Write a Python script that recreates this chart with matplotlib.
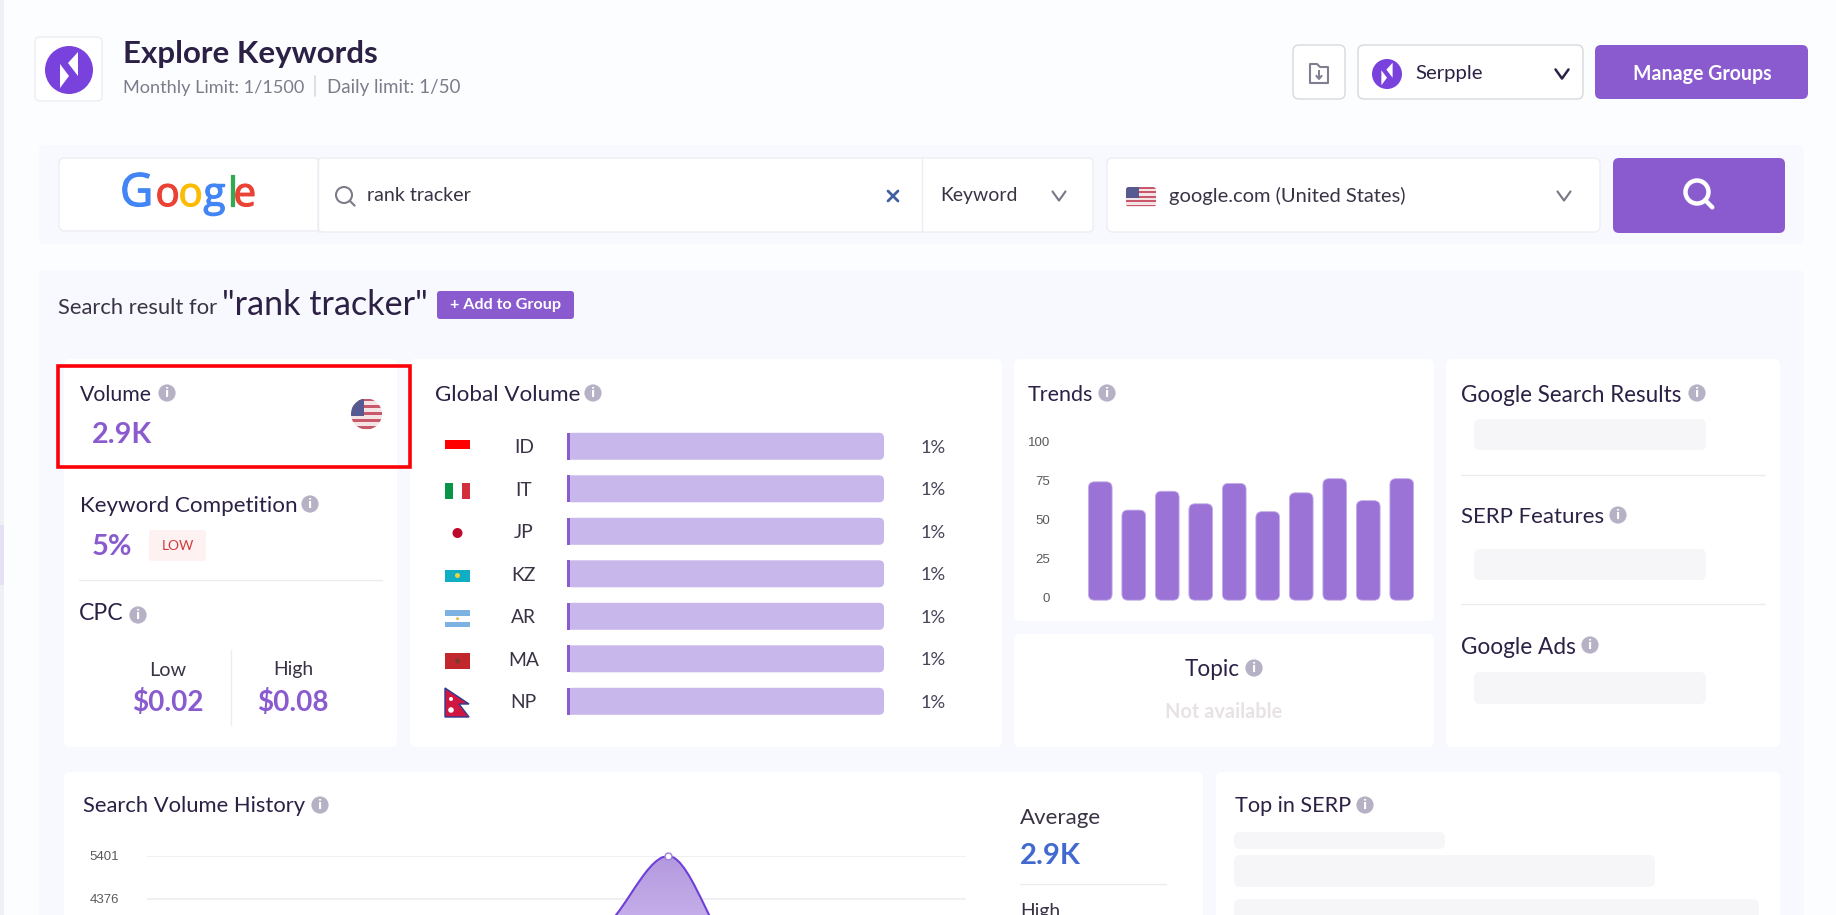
import numpy as np
import matplotlib
matplotlib.use("Agg")
import matplotlib.pyplot as plt
import matplotlib.patheffects as pe
from matplotlib.patches import FancyBboxPatch, Rectangle, Circle, Polygon, PathPatch
from matplotlib.path import Path
from matplotlib.textpath import TextPath
from matplotlib.font_manager import FontProperties
from matplotlib.colors import LinearSegmentedColormap

# ---------- data ----------
trend_values = [74, 56, 68, 60, 73, 55, 67, 76, 62, 76]
trend_ticks = [0, 25, 50, 75, 100]
country_codes = ["ID", "IT", "JP", "KZ", "AR", "MA", "NP"]
country_share = [1, 1, 1, 1, 1, 1, 1]
history_month = [6, 7, 8]
history_volume = [3608, 5401, 2950]
history_ticks = [5401, 4376]

FONT = "Lato"
INK = "#2c2145"
PURPLE = "#8a5bcf"
PANEL = "#f7f9fe"
W, H = 1836, 915

fig = plt.figure(figsize=(W / 100, H / 100), dpi=100, facecolor="#fcfdff")
ui = fig.add_axes([0, 0, 1, 1], zorder=0)
ui.set_xlim(0, W)
ui.set_ylim(H, 0)
ui.axis("off")


def box(x0, y0, x1, y1, fc="white", ec="none", r=6, lw=1.0, z=1):
    p = FancyBboxPatch((x0 + r, y0 + r), x1 - x0 - 2 * r, y1 - y0 - 2 * r,
                       boxstyle=f"round,pad={r},rounding_size={r}",
                       fc=fc, ec=ec, lw=lw, zorder=z)
    ui.add_patch(p)
    return p


def fitted(s, w, weight="normal", fam=FONT):
    tp = TextPath((0, 0), s, size=10, prop=FontProperties(family=fam, weight=weight))
    return 10 * w / (tp.get_extents().width * 100 / 72)


def T(x, y, s, w=None, size=12, color=INK, weight="normal", ha="left", fam=FONT, va="center", z=5):
    if w is not None:
        size = fitted(s, w, weight, fam)
    off = 2 if va == "center" else 0
    return ui.text(x, y + off, s, fontsize=size, color=color, fontweight=weight, ha=ha, va=va,
                   family=fam, zorder=z)


def line(x0, y0, x1, y1, c="#ececf0", lw=1.0, z=3):
    ui.plot([x0, x1], [y0, y1], color=c, lw=lw, zorder=z, solid_capstyle="round")


def info(x, y):
    ui.add_patch(Circle((x, y), 8.6, fc="#b6b1c5", ec="none", zorder=5))
    ui.text(x, y + 0.3, "i", color="white", fontsize=9, fontweight="bold", ha="center",
            va="center", family="DejaVu Sans", zorder=6)


def logo(cx, cy, r):
    ui.add_patch(Circle((cx, cy), r, fc="#7a42dc", ec="none", zorder=4))
    k = r / 24
    ui.add_patch(Polygon([(cx + 9 * k, cy - 18 * k), (cx + 9 * k, cy + 6 * k), (cx - 1 * k, cy - 7 * k)],
                         fc="white", ec="none", zorder=5))
    ui.add_patch(Polygon([(cx - 9 * k, cy - 6 * k), (cx + 0 * k, cy + 6 * k), (cx - 9 * k, cy + 18 * k)],
                         fc="white", ec="none", zorder=5))


def chevron(x, y, c="#7a7585", s=6.5, lw=1.5):
    ui.plot([x - s, x, x + s], [y - s * 0.7, y + s * 0.7, y - s * 0.7], color=c, lw=lw, zorder=5,
            solid_capstyle="round", solid_joinstyle="round")


def magnifier(x, y, r, c, lw):
    ui.add_patch(Circle((x, y), r, fc="none", ec=c, lw=lw, zorder=5))
    d = r * 0.7
    ui.plot([x + d, x + d * 1.9], [y + d, y + d * 1.9], color=c, lw=lw, zorder=5, solid_capstyle="round")


def us_flag(x0, y0, x1, y1, round_clip=False):
    h = (y1 - y0) / 9
    if round_clip:
        clip = Circle(((x0 + x1) / 2, (y0 + y1) / 2), (x1 - x0) / 2, transform=ui.transData)
    else:
        clip = FancyBboxPatch((x0 + 3, y0 + 3), x1 - x0 - 6, y1 - y0 - 6,
                              boxstyle="round,pad=3,rounding_size=3", transform=ui.transData)
    parts = [Rectangle((x0, y0), x1 - x0, y1 - y0, fc="#f4e4e6", ec="none", zorder=4)]
    for i in range(0, 9, 2):
        parts.append(Rectangle((x0, y0 + i * h), x1 - x0, h * 0.75, fc="#c9596a", ec="none", zorder=4))
    parts.append(Rectangle((x0, y0), (x1 - x0) * 0.42, (y1 - y0) * 0.55, fc="#565a90", ec="none", zorder=5))
    for p in parts:
        ui.add_patch(p)
        p.set_clip_path(clip)


# ---------- page chrome ----------
ui.add_patch(Rectangle((0, 0), 4, H, fc="#eef0f5", ec="none", zorder=0))
ui.add_patch(Rectangle((0, 525), 4, 60, fc="#e6e0f5", ec="none", zorder=0))

box(35, 37, 102, 101, ec="#eceef2", r=5)
logo(69, 70, 24)
T(123, 52, "Explore Keywords", w=251, weight="bold")
T(123, 86, "Monthly Limit: 1/1500", w=180, color="#7e7b8b")
line(315, 76, 315, 96, c="#d8d9df", lw=1.2)
T(327, 86, "Daily limit: 1/50", w=131, color="#7e7b8b")

box(1293, 45, 1345, 99, ec="#d9d9df", r=6)
ui.add_patch(Polygon([(1310, 64), (1317, 64), (1320, 67), (1328, 67), (1328, 83), (1310, 83)],
                     fc="none", ec="#827d90", lw=1.5, joinstyle="round", zorder=5))
ui.plot([1319, 1319], [71, 78], color="#827d90", lw=1.4, zorder=5)
ui.plot([1316.5, 1319, 1321.5], [76, 79, 76], color="#827d90", lw=1.4, zorder=5)
box(1358, 45, 1583, 99, ec="#d9d9df", r=6)
logo(1387, 74, 15)
T(1415, 72, "Serpple", w=66)
chevron(1562, 74, c="#2c2145", s=6.5, lw=1.8)
box(1595, 45, 1808, 99, fc=PURPLE, r=6)
T(1702, 72, "Manage Groups", size=fitted("Manage Groups", 136, "bold"), color="white", weight="bold", ha="center")

# ---------- search band ----------
box(39, 145, 1804, 244, fc=PANEL, r=6, z=0.5)
box(59, 158, 320, 231, ec="#eceef3", r=6)
box(318, 158, 1093, 232, ec="#eceef3", r=5)
line(318, 158, 318, 232, c="#eceef3")
line(922, 158, 922, 232, c="#eceef3")
box(1107, 158, 1600, 232, ec="#eceef3", r=6)
box(1613, 158, 1785, 233, fc=PURPLE, r=6)

google = [("G", 120, 33, "#4285F4"), ("o", 155.5, 29, "#EA4335"), ("o", 178.5, 29, "#FBBC05"),
          ("g", 203.5, 29, "#4285F4"), ("l", 227.5, 29, "#34A853"), ("e", 233.5, 29, "#EA4335")]
for ch, x, sz, col in google:
    tx = T(x, 206, ch, size=sz, color=col, fam="Open Sans", va="baseline")
    tx.set_path_effects([pe.withStroke(linewidth=0.9, foreground=col)])

magnifier(344, 195, 8, "#7e7b8b", 1.5)
T(367, 193.5, "rank tracker", w=102, color="#3a3345")
ui.plot([888, 898], [191, 201], color="#3e5fa0", lw=2.0, zorder=5, solid_capstyle="round")
ui.plot([888, 898], [201, 191], color="#3e5fa0", lw=2.0, zorder=5, solid_capstyle="round")
T(940, 193.5, "Keyword", w=74, color="#3a3345")
chevron(1059, 196)
us_flag(1126, 187, 1156, 207)
T(1169, 193.5, "google.com (United States)", w=236, color="#3a3345")
chevron(1564, 196)
magnifier(1697, 192, 11.5, "white", 3.2)

# ---------- results panel ----------
box(39, 270, 1804, 930, fc=PANEL, r=6, z=0.5)
T(58, 306, "Search result for", w=158, color="#3a3345")
T(222.5, 303, '"rank tracker"', w=201, color=INK)
box(437, 291, 574, 319, fc=PURPLE, r=3)
T(505.5, 303, "+ Add to Group", size=fitted("+ Add to Group", 110, "bold"), color="white", weight="bold", ha="center")

# cards
box(64, 359, 397, 747)
box(410, 359, 1002, 747)
box(1014, 359, 1434, 621)
box(1014, 634, 1434, 747)
box(1446, 359, 1780, 747)
box(64, 772, 1203, 960)
box(1216, 772, 1780, 960)

# volume card
ui.add_patch(Rectangle((58, 366), 352, 101, fc="none", ec="#fb0007", lw=2.6, zorder=8))
T(80, 393, "Volume", w=71)
info(167, 393)
T(92, 433, "2.9K", w=59, color=PURPLE, weight="bold")
us_flag(351, 398.5, 382, 429.5, round_clip=True)

T(80, 504, "Keyword Competition", w=214)
info(310, 504)
T(92, 545, "5%", w=38, color=PURPLE, weight="bold")
box(149, 530, 206, 561, fc="#fdf1f1", r=3)
T(177.5, 544, "LOW", size=10, color="#cf3b3b", ha="center")
line(79, 580, 382, 580)
T(79, 612, "CPC", w=43)
info(138, 615)
line(230.5, 650, 230.5, 725)
T(167.5, 668, "Low", size=fitted("Low", 35), color="#3a3345", ha="center")
T(293, 668, "High", size=fitted("High", 37), color="#3a3345", ha="center")
T(167.5, 701, "$0.02", size=fitted("$0.02", 69, "bold"), color=PURPLE, weight="bold", ha="center")
T(293, 701, "$0.08", size=fitted("$0.08", 69, "bold"), color=PURPLE, weight="bold", ha="center")

# global volume card
T(435, 393, "Global Volume", w=143)
info(593, 393)
# flags
ui.add_patch(Rectangle((445, 440), 25, 8.5, fc="#fe0000", ec="none", zorder=4))
ui.add_patch(Rectangle((445, 483), 8.3, 16, fc="#0a9447", ec="none", zorder=4))
ui.add_patch(Rectangle((461.7, 483), 8.3, 16, fc="#d22f3c", ec="none", zorder=4))
ui.add_patch(Circle((457.5, 533), 5, fc="#bc0a2c", ec="none", zorder=4))
ui.add_patch(Rectangle((445, 570), 25, 12, fc="#10aec4", ec="none", zorder=4))
ui.add_patch(Circle((457.5, 575.5), 2.5, fc="#e6d53e", ec="none", zorder=5))
ui.add_patch(Rectangle((445, 610), 25, 17, fc="#7cb1e2", ec="none", zorder=4))
ui.add_patch(Rectangle((445, 616), 25, 5.5, fc="white", ec="none", zorder=4))
ui.add_patch(Circle((457.5, 618.7), 1.4, fc="#f0ae3c", ec="none", zorder=5))
ui.add_patch(Rectangle((445, 653), 25, 16, fc="#c1272d", ec="none", zorder=4))
ui.add_patch(Circle((457.5, 661), 2.5, fc="#7d3b30", ec="none", zorder=5))
ui.add_patch(Polygon([(445, 688), (469, 704), (459, 704), (469, 717), (445, 717)], fc="#cf1742", ec="#2c3d8f", lw=1, zorder=4))
ui.add_patch(Circle((451, 699), 2, fc="white", ec="none", zorder=5))
ui.add_patch(Circle((451, 710), 2.8, fc="white", ec="none", zorder=5))

px_x = 317 / 100
px_y = 42.5
g_top = 446.3 - 0.4 * px_y
g_h = 6.9 * px_y
ax_g = fig.add_axes([567 / W, 1 - (g_top + g_h) / H, 317 / W, g_h / H], zorder=2)
ax_g.patch.set_alpha(0)
ax_g.axis("off")
ax_g.set_xlim(0, 100)
ax_g.set_ylim(6.5, -0.4)
rows = np.arange(len(country_codes))
bar_h = 0.635
for i, (code, share) in enumerate(zip(country_codes, country_share)):
    rx = 5 / px_x
    track = FancyBboxPatch((rx, i - bar_h / 2 + 5 / px_y), 100 - 2 * rx, bar_h - 10 / px_y,
                           boxstyle=f"round,pad={rx},rounding_size={rx}",
                           mutation_aspect=px_x / px_y, fc="#c8b7ea", ec="none", zorder=1)
    ax_g.add_patch(track)
    ax_g.text(-13.66, i + 0.03, code, ha="center", va="center", fontsize=fitted("KZ", 22), color="#3a3345", family=FONT, clip_on=False)
    ax_g.text(115.6, i + 0.03, f"{share}%", ha="center", va="center",
              fontsize=fitted("1%", 23), color="#4a4458", family=FONT, clip_on=False)
ax_g.barh(rows, country_share, height=bar_h, color=PURPLE, zorder=2)

# trends card
T(1028, 393, "Trends", w=64)
info(1107, 393)
x_unit = 33.5
y_unit = (598 - 441) / 100
ax_t = fig.add_axes([1083.5 / W, 1 - 598 / H, (10 * x_unit) / W, (598 - 441) / H], zorder=2)
ax_t.patch.set_alpha(0)
ax_t.set_xlim(-0.5, 9.5)
ax_t.set_ylim(0, 100)
for s in ax_t.spines.values():
    s.set_visible(False)
ax_t.set_xticks([])
ax_t.set_yticks(trend_ticks)
ax_t.tick_params(axis="y", length=0, pad=24, labelsize=9.5, labelcolor="#5a5a5a")
for lab in ax_t.get_yticklabels():
    lab.set_family("Liberation Sans")
rx = 6 / x_unit
ry = 6 / y_unit
bar_w = 23.7 / x_unit
base = -1.4
for i, v in enumerate(trend_values):
    p = FancyBboxPatch((i - bar_w / 2 + rx, base + ry), bar_w - 2 * rx, v - base - 2 * ry,
                       boxstyle=f"round,pad={rx},rounding_size={rx}",
                       mutation_aspect=ry / rx, fc="#9b73d6", ec="#c5aeea", lw=0.6, clip_on=False)
    ax_t.add_patch(p)

# topic card
T(1185, 668, "Topic", w=54)
info(1254, 668)
T(1224, 709.5, "Not available", size=fitted("Not available", 115, "bold"), color="#e8e2e4", weight="bold", ha="center")

# right column
T(1461, 393, "Google Search Results", w=219)
info(1697, 393)
box(1474, 419, 1706, 450, fc="#f6f6f8", r=6)
line(1461, 475, 1765, 475)
T(1461, 515, "SERP Features", w=142)
info(1618, 515)
box(1474, 549, 1706, 580, fc="#f6f6f8", r=6)
line(1461, 604, 1765, 604)
T(1461, 645, "Google Ads", w=113)
info(1590, 645)
box(1474, 672, 1706, 704, fc="#f6f6f8", r=6)

# search volume history
T(83, 804.5, "Search Volume History", w=222)
info(320, 805)
T(1020, 815.5, "Average", w=80, color="#3a3345")
T(1020, 854, "2.9K", w=60, color="#4169cf", weight="bold")
line(1020, 884, 1166, 884)
T(1020, 909, "High", w=37, color="#3a3345")

px_per_unit = 43 / 1025
y_zero = 856 + 5401 * px_per_unit
ax_h = fig.add_axes([147 / W, 1 - y_zero / H, 819 / W, (y_zero - 856) / H], zorder=2)
ax_h.patch.set_alpha(0)
ax_h.set_xlim(0, 11)
ax_h.set_ylim(0, 5401)
for s in ax_h.spines.values():
    s.set_visible(False)
ax_h.set_xticks([])
ax_h.set_yticks(history_ticks)
ax_h.grid(axis="y", color="#f0f0f2", lw=1.4)
ax_h.set_axisbelow(True)
ax_h.tick_params(axis="y", length=0, pad=20, labelsize=9.5, labelcolor="#5a5a5a")
for lab in ax_h.get_yticklabels():
    lab.set_family("Liberation Sans")

verts = [(history_month[0], history_volume[0])]
codes = [Path.MOVETO]
for x0, v0, x1, v1 in zip(history_month[:-1], history_volume[:-1], history_month[1:], history_volume[1:]):
    verts += [(x0 + (x1 - x0) / 3, v0), (x1 - (x1 - x0) / 3, v1), (x1, v1)]
    codes += [Path.CURVE4] * 3
curve = Path(verts, codes)
area = Path(verts + [(history_month[-1], 0), (history_month[0], 0), verts[0]],
            codes + [Path.LINETO, Path.LINETO, Path.CLOSEPOLY])
cmap = LinearSegmentedColormap.from_list("area", ["#c5aeea", "#b49ade"])
clip = PathPatch(area, fc="none", ec="none", transform=ax_h.transData)
ax_h.add_patch(clip)
im = ax_h.imshow(np.linspace(0, 1, 64).reshape(-1, 1), cmap=cmap, aspect="auto", origin="lower",
                 extent=(history_month[0], history_month[-1], 3900, max(history_volume)), zorder=2)
im.set_clip_path(clip)
ax_h.set_xlim(0, 11)
ax_h.set_ylim(0, 5401)
ax_h.add_patch(PathPatch(curve, fc="none", ec="#6f3fd8", lw=1.5, zorder=3))
ax_h.plot([history_month[1]], [history_volume[1]], marker="o", ms=5, mfc="white", mec="#9b7ce0", mew=1,
          zorder=4, clip_on=False)

# top in serp
T(1235, 804.5, "Top in SERP", w=115)
info(1365, 805)
box(1234, 832, 1445, 849, fc="#f6f6f8", r=6)
box(1234, 855, 1655, 887, fc="#f6f6f8", r=6)
box(1234, 899, 1759, 950, fc="#f6f6f8", r=6)

fig.savefig("out.png", dpi=100, facecolor=fig.get_facecolor())
